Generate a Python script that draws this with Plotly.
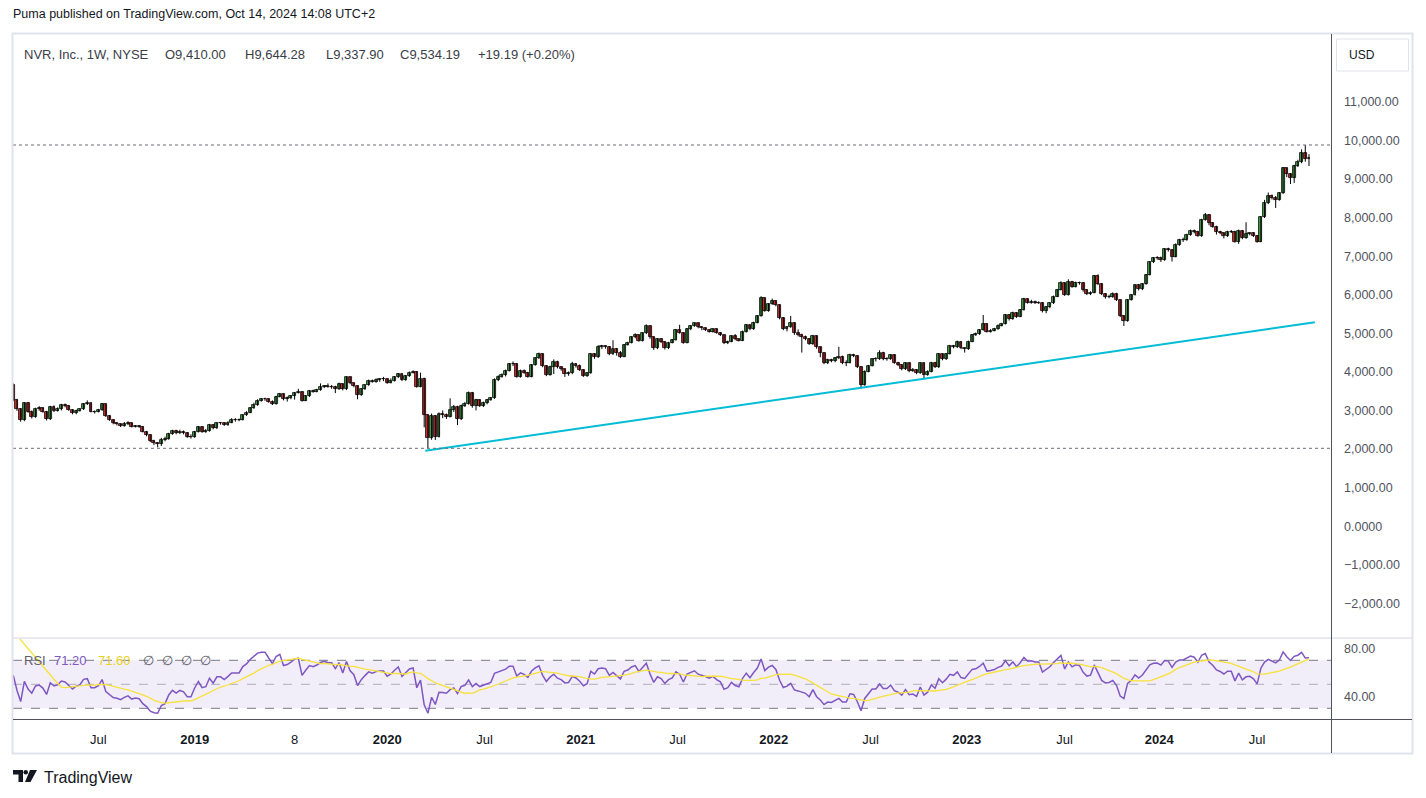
import pandas as pd
import plotly.graph_objects as go

# ---------------- data ----------------
start_date = "2018-01-22"          # first weekly bar shown
first_open = 3650
# late-2017 weekly closes (only used to warm up the RSI, outside the view)
pre_close = [2400, 2420, 2480, 2600, 2650, 2700, 2680, 2650, 2700, 2720,
             2750, 2800, 2850, 2870, 2900, 2950, 3050, 3150, 3250, 3280,
             3300, 3400, 3420, 3450, 3480, 3500, 3520, 3510, 3580, 3650]

close = [
    3270, 3028, 2752, 3184, 2968, 2838, 3028, 3054, 2968, 2769,
    3097, 2994, 3028, 3141, 3115, 3011, 2924, 2994, 3028, 3166,
    3184, 2968, 2968, 3011, 3158, 2855, 2752, 2665, 2639, 2596,
    2639, 2665, 2579, 2596, 2579, 2449, 2363, 2207, 2147, 2129,
    2233, 2259, 2389, 2466, 2406, 2449, 2423, 2319, 2319, 2449,
    2561, 2449, 2466, 2622, 2535, 2665, 2665, 2622, 2682, 2752,
    2752, 2752, 2881, 2942, 3054, 3141, 3253, 3287, 3287, 3227,
    3167, 3357, 3427, 3288, 3314, 3375, 3461, 3487, 3254, 3375,
    3504, 3487, 3530, 3599, 3634, 3617, 3617, 3548, 3686, 3548,
    3859, 3703, 3634, 3401, 3548, 3660, 3772, 3746, 3790, 3807,
    3807, 3720, 3772, 3859, 3945, 3790, 3893, 3980, 4006, 3617,
    3807, 2882, 2277, 2856, 2320, 2908, 2882, 2839, 3012, 3098,
    2770, 3115, 3167, 3461, 3115, 3271, 3115, 3184, 3271, 3314,
    3790, 3876, 3919, 4032, 4204, 4204, 3876, 4032, 3980, 3876,
    4179, 4351, 4464, 4151, 3918, 4117, 4264, 4117, 4065, 3944,
    3961, 4203, 4151, 4047, 3892, 3961, 4462, 4376, 4635, 4670,
    4652, 4462, 4583, 4497, 4393, 4696, 4756, 4894, 4955, 4808,
    4998, 5188, 4894, 4609, 4843, 4782, 4609, 4756, 4825, 5085,
    5015, 4756, 5102, 5188, 5257, 5154, 5128, 5085, 5041, 5102,
    5015, 4955, 4739, 4782, 4929, 4843, 4808, 5041, 5214, 5102,
    5275, 5448, 5906, 5586, 5759, 5845, 5733, 5387, 5102, 5154,
    5257, 4998, 4955, 4913, 4860, 4723, 4930, 4637, 4481, 4239,
    4308, 4291, 4351, 4395, 4239, 4239, 4438, 4412, 4135, 3660,
    4006, 4153, 4325, 4325, 4498, 4325, 4325, 4438, 4239, 4178,
    4066, 4222, 4032, 4049, 3962, 4222, 3919, 4006, 4239, 4118,
    4464, 4325, 4464, 4671, 4637, 4783, 4611, 4585, 4783, 4956,
    4982, 5086, 5242, 5043, 5069, 5103, 5190, 5242, 5475, 5363,
    5535, 5432, 5605, 5881, 5795, 5820, 5795, 5795, 5587, 5674,
    5777, 5950, 6123, 6296, 5994, 6340, 6210, 6313, 6296, 6123,
    6020, 6054, 6486, 6279, 6020, 5933, 5950, 6020, 5864, 5449,
    5328, 5864, 5994, 6253, 6140, 6279, 6512, 6841, 6944, 6962,
    6901, 7178, 7161, 6988, 7290, 7420, 7420, 7550, 7662, 7636,
    7524, 7938, 8068, 7852, 7765, 7636, 7593, 7524, 7636, 7636,
    7377, 7662, 7463, 7575, 7593, 7524, 7377, 8008, 8371, 8561,
    8500, 8457, 8630, 9278, 9131, 9019, 9339, 9434, 9684, 9515,
    9534]

high = [
    3700, 3300, 3060, 3210, 3220, 3000, 3070, 3110, 3080, 2990,
    3120, 3130, 3080, 3170, 3180, 3140, 3030, 3020, 3050, 3190,
    3260, 3200, 3000, 3040, 3190, 3170, 2880, 2770, 2690, 2660,
    2700, 2720, 2680, 2620, 2620, 2600, 2470, 2380, 2240, 2180,
    2290, 2320, 2420, 2500, 2500, 2500, 2480, 2440, 2380, 2470,
    2590, 2580, 2520, 2650, 2640, 2690, 2700, 2690, 2720, 2800,
    2800, 2790, 2900, 2980, 3080, 3200, 3290, 3320, 3330, 3310,
    3260, 3380, 3450, 3440, 3360, 3400, 3480, 3560, 3500, 3400,
    3530, 3540, 3560, 3700, 3660, 3700, 3660, 3640, 3720, 3700,
    3880, 3870, 3720, 3650, 3570, 3680, 3800, 3800, 3830, 3840,
    3870, 3820, 3830, 3890, 3970, 3960, 3920, 4010, 4040, 4020,
    3980, 3850, 2900, 2920, 2880, 2950, 3000, 2920, 3314, 3140,
    3120, 3150, 3220, 3490, 3480, 3300, 3290, 3230, 3300, 3350,
    3830, 3910, 3960, 4060, 4230, 4270, 4230, 4060, 4060, 4000,
    4200, 4370, 4500, 4480, 4170, 4160, 4324, 4290, 4140, 4080,
    4010, 4260, 4230, 4190, 4060, 3990, 4480, 4490, 4690, 4700,
    4690, 4670, 4820, 4620, 4540, 4720, 4780, 4920, 5000, 4970,
    5020, 5230, 5200, 4910, 4870, 4870, 4800, 4780, 4850, 5110,
    5220, 5030, 5130, 5210, 5280, 5270, 5180, 5140, 5100, 5130,
    5120, 5030, 4970, 4810, 4950, 4980, 4860, 5070, 5240, 5230,
    5300, 5470, 5960, 5920, 5780, 5900, 5860, 5750, 5420, 5190,
    5450, 5280, 5100, 4990, 4940, 4880, 4960, 4950, 4650, 4500,
    4340, 4340, 4380, 4650, 4420, 4300, 4470, 4470, 4430, 4150,
    4040, 4180, 4350, 4380, 4560, 4520, 4380, 4460, 4460, 4260,
    4200, 4250, 4240, 4100, 4070, 4250, 4240, 4040, 4260, 4260,
    4490, 4480, 4490, 4700, 4700, 4810, 4800, 4640, 4810, 4980,
    5020, 5110, 5475, 5260, 5110, 5140, 5230, 5270, 5500, 5490,
    5560, 5550, 5630, 5920, 5900, 5870, 5850, 5830, 5810, 5700,
    5800, 5980, 6150, 6350, 6320, 6400, 6360, 6340, 6340, 6320,
    6140, 6090, 6510, 6530, 6300, 6040, 6000, 6060, 6050, 5880,
    5470, 5890, 6020, 6280, 6280, 6300, 6540, 6870, 6980, 7000,
    6990, 7210, 7220, 7180, 7330, 7450, 7480, 7580, 7690, 7690,
    7660, 7970, 8120, 8090, 7880, 7790, 7660, 7620, 7660, 7680,
    7660, 7690, 7680, 7880, 7620, 7620, 7550, 8040, 8460, 8650,
    8600, 8560, 8660, 9310, 9300, 9150, 9370, 9500, 9770, 9883,
    9644]

low = [
    3240, 2990, 2708, 2720, 2940, 2790, 2810, 2990, 2940, 2740,
    2750, 2960, 2970, 3000, 3080, 2990, 2900, 2900, 2970, 3010,
    3140, 2950, 2920, 2950, 2990, 2830, 2730, 2640, 2610, 2570,
    2580, 2620, 2560, 2560, 2550, 2430, 2330, 2180, 2100, 2043,
    2080, 2200, 2240, 2370, 2380, 2390, 2380, 2290, 2270, 2290,
    2430, 2420, 2420, 2450, 2510, 2520, 2630, 2600, 2600, 2670,
    2710, 2720, 2740, 2860, 2930, 3040, 3120, 3230, 3250, 3200,
    3140, 3150, 3340, 3260, 3230, 3290, 3280, 3440, 3230, 3240,
    3350, 3460, 3470, 3510, 3580, 3590, 3560, 3450, 3530, 3520,
    3530, 3680, 3600, 3290, 3380, 3530, 3640, 3720, 3720, 3740,
    3760, 3690, 3700, 3750, 3840, 3760, 3770, 3870, 3960, 3590,
    3600, 2560, 2018, 2240, 2234, 2300, 2800, 2780, 2820, 2960,
    2620, 2750, 3090, 3150, 3070, 3000, 3090, 3090, 3160, 3250,
    3300, 3760, 3850, 3880, 4010, 4150, 3850, 3850, 3950, 3850,
    3860, 4160, 4330, 4120, 3890, 3900, 3944, 4090, 4030, 3870,
    3900, 3940, 4110, 4020, 3870, 3870, 3950, 4340, 4360, 4590,
    4600, 4430, 4440, 4420, 4360, 4380, 4680, 4740, 4870, 4780,
    4790, 4980, 4860, 4570, 4590, 4750, 4580, 4590, 4740, 4810,
    4990, 4730, 4740, 5080, 5170, 5130, 5080, 5060, 5020, 5020,
    4990, 4930, 4720, 4720, 4770, 4820, 4790, 4800, 5020, 5080,
    5090, 5260, 5430, 5560, 5560, 5740, 5700, 5360, 5080, 5050,
    5140, 4960, 4920, 4500, 4820, 4700, 4700, 4600, 4380, 4200,
    4200, 4250, 4250, 4330, 4200, 4150, 4220, 4380, 4100, 3573,
    3640, 3990, 4140, 4270, 4310, 4300, 4290, 4310, 4210, 4150,
    4040, 4050, 3990, 4000, 3940, 3950, 3807, 3900, 3990, 4100,
    4100, 4300, 4310, 4450, 4610, 4620, 4590, 4500, 4570, 4770,
    4930, 4960, 5070, 5020, 5020, 5050, 5090, 5180, 5230, 5330,
    5350, 5400, 5420, 5590, 5770, 5770, 5760, 5760, 5540, 5520,
    5650, 5760, 5940, 6110, 5970, 5980, 6180, 6190, 6260, 6080,
    5990, 5990, 6040, 6250, 5990, 5900, 5910, 5920, 5840, 5420,
    5190, 5300, 5850, 5980, 6110, 6120, 6260, 6500, 6820, 6910,
    6850, 6880, 7120, 6860, 6970, 7270, 7370, 7400, 7530, 7590,
    7500, 7500, 7920, 7800, 7740, 7560, 7570, 7460, 7500, 7600,
    7350, 7320, 7440, 7450, 7540, 7500, 7350, 7360, 7990, 8350,
    8470, 8250, 8440, 8610, 9050, 8870, 8900, 9310, 9410, 9450,
    9338]

# drawn trend line (two anchor points) and horizontal levels
trend_dates = ["2020-03-11", "2024-10-18"]
trend_prices = [1956, 5285]
level_prices = [9883, 2018]

price_ticks = [11000, 10000, 9000, 8000, 7000, 6000, 5000, 4000, 3000, 2000,
               1000, 0, -1000, -2000]
price_tick_text = ["11,000.00", "10,000.00", "9,000.00", "8,000.00", "7,000.00",
                   "6,000.00", "5,000.00", "4,000.00", "3,000.00", "2,000.00",
                   "1,000.00", "0.0000", "\u22121,000.00", "\u22122,000.00"]
rsi_ticks = [80, 40]
rsi_tick_text = ["80.00", "40.00"]
time_ticks = ["2018-07-02", "2018-12-31", "2019-07-08", "2019-12-30", "2020-07-01",
              "2020-12-30", "2021-07-01", "2021-12-30", "2022-07-01", "2022-12-30",
              "2023-07-03", "2023-12-29", "2024-07-01"]
time_tick_text = ["Jul", "<b>2019</b>", "8", "<b>2020</b>", "Jul", "<b>2021</b>", "Jul",
                  "<b>2022</b>", "Jul", "<b>2023</b>", "Jul", "<b>2024</b>", "Jul"]

# ---------------- derived series ----------------
dates = pd.date_range(start_date, periods=len(close), freq="7D")
opens = [first_open] + close[:-1]

allc = pd.Series(pre_close + close, dtype=float)
delta = allc.diff()
avg_up = delta.clip(lower=0).ewm(alpha=1 / 14, adjust=False).mean()
avg_dn = (-delta.clip(upper=0)).ewm(alpha=1 / 14, adjust=False).mean()
rsi_all = 100 - 100 / (1 + avg_up / avg_dn)
rsi_ma_all = rsi_all.rolling(14).mean()
rsi = rsi_all.iloc[len(pre_close):].values
rsi_ma = rsi_ma_all.iloc[len(pre_close):].values

body_base = [min(o, c) for o, c in zip(opens, close)]
body_size = [abs(c - o) for o, c in zip(opens, close)]
body_color = ["#43a047" if c >= o else "#d32f2f" for o, c in zip(opens, close)]
wick_x, wick_y = [], []
for d, h, l in zip(dates, high, low):
    wick_x += [d, d, None]
    wick_y += [l, h, None]

# ---------------- layout geometry (pixels) ----------------
W, H = 1426, 798
L, R, T, B = 13, 1332, 35, 720
pw, ph = R - L, B - T


def px(x):
    return (x - L) / pw


def py(y):
    return (B - y) / ph


FONT = "Liberation Sans, Arial, sans-serif"
TXT = "#131722"
GRAY = "#50535e"
WEEK_MS = 7 * 24 * 3600 * 1000

fig = go.Figure()

fig.add_trace(go.Scatter(
    x=wick_x, y=wick_y, mode="lines", line=dict(color="#000000", width=1),
    showlegend=False, hoverinfo="skip", xaxis="x", yaxis="y"))
fig.add_trace(go.Bar(
    x=dates, y=body_size, base=body_base, width=0.8 * WEEK_MS,
    marker=dict(color=body_color, line=dict(color="#000000", width=0.8)),
    showlegend=False, hoverinfo="skip", xaxis="x", yaxis="y"))

fig.add_trace(go.Scatter(
    x=trend_dates, y=trend_prices, mode="lines",
    line=dict(color="#00bcd4", width=2), showlegend=False,
    hoverinfo="skip", xaxis="x", yaxis="y"))

fig.add_trace(go.Scatter(
    x=dates, y=rsi, mode="lines", line=dict(color="#7e57c2", width=1.5),
    showlegend=False, hoverinfo="skip", xaxis="x", yaxis="y2"))
fig.add_trace(go.Scatter(
    x=dates, y=rsi_ma, mode="lines", line=dict(color="#f7e13a", width=1.3),
    showlegend=False, hoverinfo="skip", xaxis="x", yaxis="y2"))

shapes = []
# RSI band and levels
shapes.append(dict(type="rect", xref="paper", yref="y2", x0=0, x1=1, y0=30, y1=70,
                   fillcolor="rgba(126,87,194,0.1)", line=dict(width=0), layer="below"))
for lv, col in [(70, "#787b86"), (50, "rgba(120,123,134,0.55)"), (30, "#787b86")]:
    shapes.append(dict(type="line", xref="paper", yref="y2", x0=0, x1=1, y0=lv, y1=lv,
                       line=dict(color=col, width=1, dash="dash"), layer="below"))
# horizontal dotted levels
for lv in level_prices:
    shapes.append(dict(type="line", xref="paper", yref="y", x0=0, x1=1, y0=lv, y1=lv,
                       line=dict(color="#6a6d78", width=1, dash="dot")))
# frame
shapes.append(dict(type="rect", xref="paper", yref="paper",
                   x0=px(12.5), x1=px(1412.5), y0=py(753.5), y1=py(33.5),
                   line=dict(color="#e0e3eb", width=2)))
# pane separator
shapes.append(dict(type="line", xref="paper", yref="paper", x0=px(13), x1=px(1412),
                   y0=py(638), y1=py(638), line=dict(color="#e0e3eb", width=1.5)))
# time axis line
shapes.append(dict(type="line", xref="paper", yref="paper", x0=px(13), x1=px(1412),
                   y0=py(719.5), y1=py(719.5), line=dict(color="#50535e", width=1)))
# price axis line
shapes.append(dict(type="line", xref="paper", yref="paper", x0=px(1331.5), x1=px(1331.5),
                   y0=py(34), y1=py(753), line=dict(color="#50535e", width=1)))
# USD box
shapes.append(dict(type="rect", xref="paper", yref="paper", x0=px(1336.5), x1=px(1408.5),
                   y0=py(71), y1=py(39), line=dict(color="#e0e3eb", width=1)))
# TradingView logo (simplified)
shapes.append(dict(type="path", xref="paper", yref="paper",
                   path=("M %f %f L %f %f L %f %f L %f %f L %f %f L %f %f Z" % (
                       px(13), py(770), px(23), py(770), px(23), py(782), px(18.5), py(782),
                       px(18.5), py(774.5), px(13), py(774.5))),
                   fillcolor="#131722", line=dict(width=0)))
shapes.append(dict(type="circle", xref="paper", yref="paper", x0=px(23.5), x1=px(28),
                   y0=py(774.5), y1=py(770), fillcolor="#131722", line=dict(width=0)))
shapes.append(dict(type="path", xref="paper", yref="paper",
                   path="M %f %f L %f %f L %f %f L %f %f Z" % (
                       px(30), py(770), px(37), py(770), px(30.5), py(782), px(25), py(782)),
                   fillcolor="#131722", line=dict(width=0)))

ann = []


def text(x, y, s, size=13, color=TXT, anchor="left"):
    ann.append(dict(xref="paper", yref="paper", x=px(x), y=py(y), text=s,
                    showarrow=False, xanchor=anchor, yanchor="middle",
                    font=dict(family=FONT, size=size, color=color)))


text(11, 14, "Puma published on TradingView.com, Oct 14, 2024 14:08 UTC+2", 12.5)
text(22, 54, "NVR, Inc., 1W, NYSE", 13, "#3a3d46")
text(163, 54, "O9,410.00", 13, "#3a3d46")
text(243, 54, "H9,644.28", 13, "#3a3d46")
text(324, 54, "L9,337.90", 13, "#3a3d46")
text(398, 54, "C9,534.19", 13, "#3a3d46")
text(476, 54, "+19.19 (+0.20%)", 13, "#3a3d46")
text(1347, 55, "USD", 12, TXT)
text(22, 660, "RSI", 13, "#5d606b")
text(52, 660, "71.20", 13, "#7e57c2")
text(96, 660, "71.60", 13, "#e8d21c")
for xx in [145, 164, 183, 202]:
    text(xx - 4, 660, "\u2205", 13, "#5d606b")
text(42, 777, "TradingView", 16, TXT)

fig.update_layout(
    width=W, height=H,
    margin=dict(l=L, r=W - R, t=T, b=H - B, pad=0),
    paper_bgcolor="white", plot_bgcolor="white",
    shapes=shapes, annotations=ann, bargap=0,
    xaxis=dict(type="date", range=["2018-01-21 12:00", "2024-11-19 12:00"],
               anchor="y2", domain=[0, 1], showgrid=False, zeroline=False,
               showline=False,
               tickmode="array", tickvals=time_ticks, ticktext=time_tick_text,
               ticks="", tickfont=dict(family=FONT, size=13, color=TXT),
               ticklabelstandoff=10),
    yaxis=dict(domain=[py(637), 1], range=[-2875, 12735], side="right",
               anchor="x", showgrid=False, zeroline=False, showline=False,
               tickmode="array", tickvals=price_ticks, ticktext=price_tick_text,
               ticks="", tickfont=dict(family=FONT, size=12.5, color=GRAY),
               ticklabelstandoff=11),
    yaxis2=dict(domain=[0, py(639)], range=[20.25, 87.75], side="right",
                anchor="x", showgrid=False, zeroline=False, showline=False,
                tickmode="array", tickvals=rsi_ticks, ticktext=rsi_tick_text,
                ticks="", tickfont=dict(family=FONT, size=12.5, color=GRAY),
                ticklabelstandoff=11),
)

fig.write_html("out.html")
